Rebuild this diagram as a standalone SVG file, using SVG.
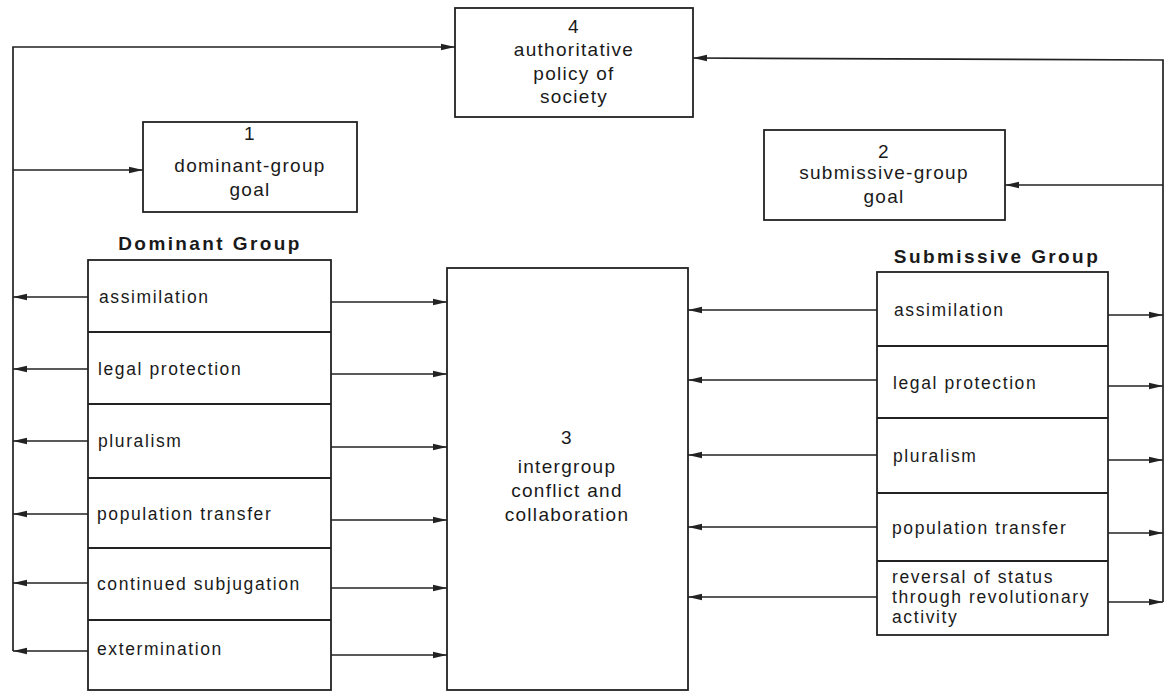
<svg xmlns="http://www.w3.org/2000/svg" width="1175" height="698" viewBox="0 0 1175 698">
<style>
.box{fill:#fff;stroke:#222;stroke-width:1.8}
.sep{stroke:#222;stroke-width:1.8}
.ln{fill:none;stroke:#222;stroke-width:1.7}
.t{font-family:"Liberation Sans",Arial,sans-serif;font-size:19px;letter-spacing:1.3px;fill:#1a1a1a;text-anchor:middle}
.li{font-family:"Liberation Sans",Arial,sans-serif;font-size:17.5px;letter-spacing:1.6px;fill:#1a1a1a}
.h{font-family:"Liberation Sans",Arial,sans-serif;font-size:19px;font-weight:bold;letter-spacing:2.4px;fill:#1a1a1a;text-anchor:middle}
</style>
<defs>
<marker id="ah" markerWidth="15" markerHeight="8" refX="14" refY="4" orient="auto" markerUnits="userSpaceOnUse">
<path d="M0,0.8 L14,4 L0,7.2 z" fill="#222"/>
</marker>
</defs>
<rect width="1175" height="698" fill="#fff"/>

<g id="connectors">
<path class="ln" d="M13,651 L13,47 L455,47" marker-end="url(#ah)"/>
<line class="ln" x1="13" y1="170" x2="143" y2="170" marker-end="url(#ah)"/>
<path class="ln" d="M1163,602 L1163,60 L693,58" marker-end="url(#ah)"/>
<line class="ln" x1="1163" y1="185" x2="1005" y2="185" marker-end="url(#ah)"/>

<line class="ln" x1="88" y1="297" x2="13" y2="297" marker-end="url(#ah)"/>
<line class="ln" x1="88" y1="369" x2="13" y2="369" marker-end="url(#ah)"/>
<line class="ln" x1="88" y1="441" x2="13" y2="441" marker-end="url(#ah)"/>
<line class="ln" x1="88" y1="514" x2="13" y2="514" marker-end="url(#ah)"/>
<line class="ln" x1="88" y1="583" x2="13" y2="583" marker-end="url(#ah)"/>
<line class="ln" x1="88" y1="651" x2="13" y2="651" marker-end="url(#ah)"/>

<line class="ln" x1="331" y1="302" x2="447" y2="302" marker-end="url(#ah)"/>
<line class="ln" x1="331" y1="374" x2="447" y2="374" marker-end="url(#ah)"/>
<line class="ln" x1="331" y1="447" x2="447" y2="447" marker-end="url(#ah)"/>
<line class="ln" x1="331" y1="520" x2="447" y2="520" marker-end="url(#ah)"/>
<line class="ln" x1="331" y1="588" x2="447" y2="588" marker-end="url(#ah)"/>
<line class="ln" x1="331" y1="655" x2="447" y2="655" marker-end="url(#ah)"/>

<line class="ln" x1="877" y1="310" x2="688" y2="310" marker-end="url(#ah)"/>
<line class="ln" x1="877" y1="380" x2="688" y2="380" marker-end="url(#ah)"/>
<line class="ln" x1="877" y1="455" x2="688" y2="455" marker-end="url(#ah)"/>
<line class="ln" x1="877" y1="527" x2="688" y2="527" marker-end="url(#ah)"/>
<line class="ln" x1="877" y1="597" x2="688" y2="597" marker-end="url(#ah)"/>

<line class="ln" x1="1108" y1="315" x2="1163" y2="315" marker-end="url(#ah)"/>
<line class="ln" x1="1108" y1="386" x2="1163" y2="386" marker-end="url(#ah)"/>
<line class="ln" x1="1108" y1="460" x2="1163" y2="460" marker-end="url(#ah)"/>
<line class="ln" x1="1108" y1="533" x2="1163" y2="533" marker-end="url(#ah)"/>
<line class="ln" x1="1108" y1="602" x2="1163" y2="602" marker-end="url(#ah)"/>
</g>

<g id="node4">
<rect class="box" x="455" y="8" width="238" height="109"/>
<text class="t" x="574" y="33">4</text>
<text class="t" x="574" y="56">authoritative</text>
<text class="t" x="574" y="80">policy of</text>
<text class="t" x="574" y="103">society</text>
</g>

<g id="node1">
<rect class="box" x="143" y="122" width="214" height="90"/>
<text class="t" x="250" y="140">1</text>
<text class="t" x="250" y="172">dominant-group</text>
<text class="t" x="250" y="196">goal</text>
</g>

<g id="node2">
<rect class="box" x="764" y="130" width="241" height="90"/>
<text class="t" x="884" y="158">2</text>
<text class="t" x="884" y="179">submissive-group</text>
<text class="t" x="884" y="203">goal</text>
</g>

<g id="node3">
<rect class="box" x="447" y="268" width="241" height="422"/>
<text class="t" x="567" y="444">3</text>
<text class="t" x="567" y="473">intergroup</text>
<text class="t" x="567" y="497">conflict and</text>
<text class="t" x="567" y="521">collaboration</text>
</g>

<g id="dominant-group">
<text class="h" x="210" y="250">Dominant Group</text>
<rect class="box" x="88" y="260" width="243" height="430"/>
<line class="sep" x1="88" y1="332" x2="331" y2="332"/>
<line class="sep" x1="88" y1="404" x2="331" y2="404"/>
<line class="sep" x1="88" y1="478" x2="331" y2="478"/>
<line class="sep" x1="88" y1="548" x2="331" y2="548"/>
<line class="sep" x1="88" y1="620" x2="331" y2="620"/>
<text class="li" x="99" y="303">assimilation</text>
<text class="li" x="98" y="375">legal protection</text>
<text class="li" x="98" y="447">pluralism</text>
<text class="li" x="97" y="520">population transfer</text>
<text class="li" x="97" y="590">continued subjugation</text>
<text class="li" x="97" y="655">extermination</text>
</g>

<g id="submissive-group">
<text class="h" x="997" y="263">Submissive Group</text>
<rect class="box" x="877" y="272" width="231" height="363"/>
<line class="sep" x1="877" y1="346" x2="1108" y2="346"/>
<line class="sep" x1="877" y1="418" x2="1108" y2="418"/>
<line class="sep" x1="877" y1="493" x2="1108" y2="493"/>
<line class="sep" x1="877" y1="561" x2="1108" y2="561"/>
<text class="li" x="894" y="316">assimilation</text>
<text class="li" x="893" y="389">legal protection</text>
<text class="li" x="893" y="462">pluralism</text>
<text class="li" x="892" y="534">population transfer</text>
<text class="li" x="892" y="583">reversal of status</text>
<text class="li" x="892" y="603">through revolutionary</text>
<text class="li" x="892" y="623">activity</text>
</g>
</svg>
